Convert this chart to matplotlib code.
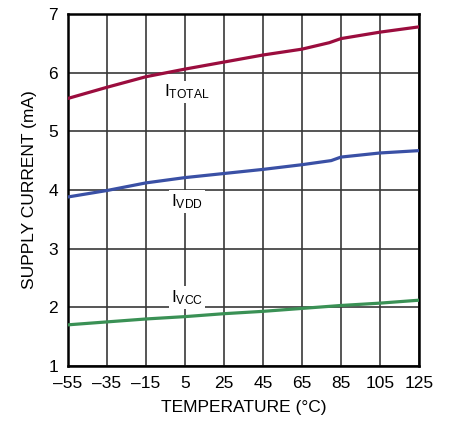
import matplotlib
matplotlib.use("Agg")
import matplotlib.pyplot as plt

plt.rcParams['font.family'] = ['Liberation Sans Narrow', 'Liberation Sans', 'DejaVu Sans']
plt.rcParams['mathtext.default'] = 'regular'

temp_total = [-55, -35, -15, 5, 25, 45, 65, 79, 85, 105, 125]
i_total = [5.56, 5.75, 5.93, 6.06, 6.18, 6.30, 6.40, 6.51, 6.58, 6.69, 6.78]
temp_vdd = [-55, -35, -15, 5, 25, 45, 65, 80, 85, 105, 125]
i_vdd = [3.88, 3.99, 4.12, 4.21, 4.28, 4.35, 4.43, 4.50, 4.56, 4.63, 4.67]
temp_vcc = [-55, -35, -15, 5, 25, 45, 65, 85, 105, 125]
i_vcc = [1.70, 1.75, 1.80, 1.84, 1.89, 1.93, 1.98, 2.03, 2.07, 2.12]

xticks = list(range(-55, 126, 20))
xticklabels = [str(t).replace('-', '\u2013') for t in xticks]

fig = plt.figure(figsize=(4.5, 4.23), dpi=100)
ax = fig.add_axes([0.151, 0.135, 0.78, 0.832])

ax.plot(temp_total, i_total, color='#9B0D3E', lw=2.3, zorder=3)
ax.plot(temp_vdd, i_vdd, color='#3A50A5', lw=2.3, zorder=3)
ax.plot(temp_vcc, i_vcc, color='#3A9155', lw=2.3, zorder=3)

box = dict(facecolor='white', edgecolor='none', pad=1.5)
ax.text(6, 5.67, 'I$_{TOTAL}$', fontsize=12.5, ha='center', va='center', zorder=4, bbox=box)
ax.text(6, 3.80, 'I$_{VDD}$', fontsize=12.5, ha='center', va='center', zorder=4, bbox=box)
ax.text(6, 2.16, 'I$_{VCC}$', fontsize=12.5, ha='center', va='center', zorder=4, bbox=box)

ax.set_xlim(-55, 125)
ax.set_ylim(1, 7)
ax.set_xticks(xticks)
ax.set_xticklabels(xticklabels)
ax.set_yticks(range(1, 8))
ax.grid(True, color='#383838', lw=1.2, zorder=1)
ax.tick_params(length=0, labelsize=12.5, pad=7)
for s in ax.spines.values():
    s.set_linewidth(1.8)
ax.set_xlabel('TEMPERATURE (°C)', fontsize=12.5, labelpad=7)
ax.set_ylabel('SUPPLY CURRENT (mA)', fontsize=12.5, labelpad=8)

fig.savefig('out.png', dpi=100)
